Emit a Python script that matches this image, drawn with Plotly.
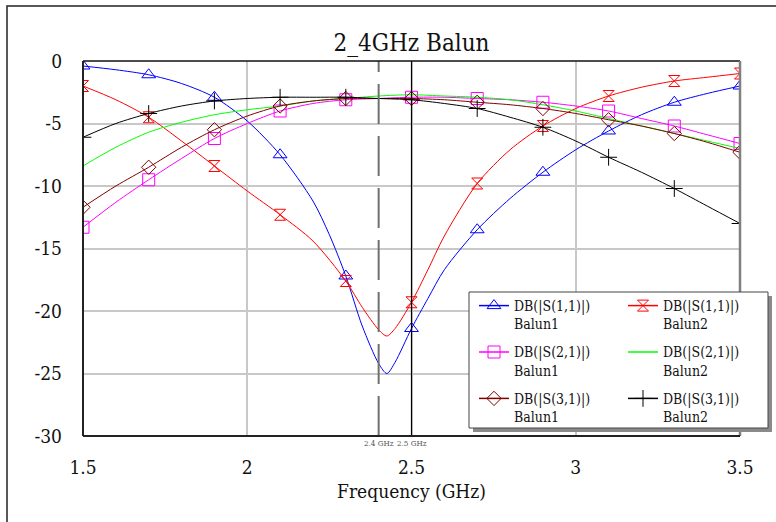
import plotly.graph_objects as go

# ---------------- data ----------------
freq = [1.5, 1.6, 1.7, 1.8, 1.9, 2.0, 2.1, 2.2, 2.3, 2.4, 2.5,
        2.6, 2.7, 2.8, 2.9, 3.0, 3.1, 3.2, 3.3, 3.4, 3.5]
marker_freq = [1.5, 1.7, 1.9, 2.1, 2.3, 2.5, 2.7, 2.9, 3.1, 3.3, 3.5]

freq_s11_b1 = [1.5, 1.6, 1.7, 1.8, 1.9, 2.0, 2.1, 2.2, 2.25, 2.3, 2.35, 2.4, 2.425,
               2.45, 2.5, 2.55, 2.6, 2.7, 2.8, 2.9, 3.0, 3.1, 3.2, 3.3, 3.4, 3.5]
s11_b1 = [-0.4, -0.7, -1.1, -1.8, -2.9, -4.8, -7.5, -11.2, -13.9, -17.2, -21.2, -24.2, -25.0,
          -24.1, -21.4, -19.0, -16.7, -13.5, -11.0, -8.9, -7.1, -5.6, -4.3, -3.3, -2.6, -2.0]

freq_s11_b2 = [1.5, 1.6, 1.7, 1.8, 1.9, 2.0, 2.1, 2.2, 2.3, 2.35, 2.4, 2.425, 2.45,
               2.5, 2.55, 2.6, 2.7, 2.8, 2.9, 3.0, 3.1, 3.2, 3.3, 3.4, 3.5]
s11_b2 = [-2.0, -3.1, -4.5, -6.4, -8.4, -10.4, -12.3, -14.4, -17.6, -19.7, -21.5, -22.0, -21.4,
          -19.3, -16.7, -14.0, -9.8, -7.1, -5.2, -3.8, -2.8, -2.1, -1.6, -1.3, -1.0]

s21_b1 = [-13.3, -11.3, -9.5, -7.8, -6.2, -5.0, -4.0, -3.4, -3.1, -3.0, -2.9,
          -2.9, -3.0, -3.1, -3.3, -3.6, -4.0, -4.6, -5.2, -5.9, -6.6]
s21_b2 = [-8.4, -6.9, -5.7, -4.9, -4.3, -3.9, -3.6, -3.2, -3.0, -2.8, -2.7,
          -2.8, -2.9, -3.1, -3.5, -4.0, -4.6, -5.2, -5.8, -6.4, -7.0]
s31_b1 = [-11.7, -10.0, -8.5, -6.9, -5.5, -4.4, -3.6, -3.2, -3.0, -3.0, -3.0,
          -3.1, -3.3, -3.5, -3.8, -4.2, -4.7, -5.2, -5.8, -6.5, -7.3]
s31_b2 = [-6.1, -5.0, -4.2, -3.6, -3.2, -3.0, -2.9, -2.9, -2.9, -3.0, -3.1,
          -3.4, -3.8, -4.5, -5.3, -6.4, -7.7, -8.9, -10.2, -11.6, -13.0]

x_ticks = [1.5, 2.0, 2.5, 3.0, 3.5]
x_ticktext = ["1.5", "2", "2.5", "3", "3.5"]
y_ticks = [0, -5, -10, -15, -20, -25, -30]
y_ticktext = ["0", "-5", "-10", "-15", "-20", "-25", "-30"]

marker_lines = [2.4, 2.5]
marker_labels = ["2.4 GHz", "2.5 GHz"]

series = [
    # name, freq list, values, color, symbol, size, legend
    ("DB(|S(1,1)|)<br>Balun1", freq_s11_b1, s11_b1, "#0000ff", "triangle-up-open", 12, "legend"),
    ("DB(|S(1,1)|)<br>Balun2", freq_s11_b2, s11_b2, "#ff0000", "hourglass-open", 11, "legend2"),
    ("DB(|S(2,1)|)<br>Balun1", freq, s21_b1, "#ff00ff", "square-open", 12, "legend"),
    ("DB(|S(2,1)|)<br>Balun2", freq, s21_b2, "#00ff00", None, 0, "legend2"),
    ("DB(|S(3,1)|)<br>Balun1", freq, s31_b1, "#800000", "diamond-open", 11, "legend"),
    ("DB(|S(3,1)|)<br>Balun2", freq, s31_b2, "#000000", "cross-thin-open", 12, "legend2"),
]

# ---------------- layout geometry ----------------
W, H = 776, 522
PL, PR, PT, PB = 83, 740, 61, 436
FONT = "DejaVu Serif Condensed, DejaVu Serif"


def px(xp):
    return (xp - PL) / (PR - PL)


def py(yp):
    return (PB - yp) / (PB - PT)


fig = go.Figure()

for i, (name, fx, fy, color, sym, size, leg) in enumerate(series):
    fig.add_trace(go.Scatter(x=fx, y=fy, mode="lines", line=dict(color=color, width=1),
                             line_shape="spline", line_smoothing=0.8,
                             showlegend=False, hoverinfo="skip"))
    if sym:
        lookup = dict(zip(fx, fy))
        mx = [f for f in marker_freq if f in lookup]
        my = [lookup[f] for f in mx]
        fig.add_trace(go.Scatter(x=mx, y=my, mode="markers",
                                 marker=dict(symbol=sym, size=size, color=color,
                                             line=dict(color=color, width=1)),
                                 showlegend=False, hoverinfo="skip"))
    fig.add_trace(go.Scatter(x=[None], y=[None],
                             mode="lines+markers" if sym else "lines",
                             line=dict(color=color, width=1.5),
                             marker=dict(symbol=sym or "circle", size=size or 1, color=color,
                                         line=dict(color=color, width=1)),
                             name=name, legend=leg, legendgroup=name, showlegend=True))

shapes = []
shapes.append(dict(type="rect", xref="paper", yref="paper",
                   x0=px(7), x1=px(800), y0=py(600), y1=py(6),
                   line=dict(color="#222", width=1.5), layer="above"))
for f, dash, col, wd in zip(marker_lines, ["40px,12px", "solid"], ["#707070", "#000000"], [2, 1.2]):
    shapes.append(dict(type="line", xref="x", yref="paper", x0=f, x1=f, y0=0, y1=1,
                       line=dict(color=col, width=wd, dash=dash), layer="above"))
shapes += [
    dict(type="line", xref="paper", yref="paper", x0=0, x1=1, y0=1, y1=1,
         line=dict(color="#111", width=1.5), layer="above"),
    dict(type="line", xref="paper", yref="paper", x0=1, x1=1, y0=0, y1=1,
         line=dict(color="#808080", width=2.5), layer="above"),
    dict(type="line", xref="paper", yref="paper", x0=0, x1=0, y0=0, y1=1,
         line=dict(color="#222", width=2), layer="above"),
    dict(type="line", xref="paper", yref="paper", x0=0, x1=1, y0=0, y1=0,
         line=dict(color="#222", width=2), layer="above"),
]
shapes.append(dict(type="rect", xref="paper", yref="paper",
                   x0=px(473), x1=px(772), y0=py(432), y1=py(296),
                   fillcolor="#8a8a8a", line=dict(width=0), layer="above"))
shapes.append(dict(type="rect", xref="paper", yref="paper",
                   x0=px(469), x1=px(768), y0=py(428), y1=py(292),
                   fillcolor="#ffffff", line=dict(color="#444", width=1), layer="above"))

annotations = []
for f, lab in zip(marker_lines, marker_labels):
    annotations.append(dict(x=f, y=py(443), xref="x", yref="paper", text=lab,
                            showarrow=False, font=dict(family=FONT, size=8, color="#555"),
                            xanchor="center", yanchor="middle"))

leg_common = dict(bgcolor="rgba(0,0,0,0)", borderwidth=0, xanchor="left", yanchor="top",
                  font=dict(family=FONT, size=14, color="#111"), valign="top",
                  tracegroupgap=7, itemwidth=30)

fig.update_layout(
    width=W, height=H,
    margin=dict(l=PL, r=W - PR, t=PT, b=H - PB),
    paper_bgcolor="white", plot_bgcolor="white",
    font=dict(family=FONT, color="#111"),
    title=dict(text="2_4GHz Balun", x=0.5, xref="paper", xanchor="center",
               y=1 - 43 / H, yanchor="middle", font=dict(family=FONT, size=24, color="#111")),
    xaxis=dict(range=[1.5, 3.5], tickvals=x_ticks, ticktext=x_ticktext,
               showgrid=True, gridcolor="#c8c8c8", gridwidth=1.5, zeroline=False,
               showline=False, ticks="", ticklabelstandoff=18,
               tickfont=dict(family=FONT, size=19, color="#111"),
               title=dict(text="Frequency (GHz)", font=dict(family=FONT, size=19, color="#111"),
                          standoff=7)),
    yaxis=dict(range=[-30, 0], tickvals=y_ticks, ticktext=y_ticktext,
               showgrid=True, gridcolor="#c8c8c8", gridwidth=1.5, zeroline=False,
               showline=False, ticks="", ticklabelstandoff=20,
               tickfont=dict(family=FONT, size=19, color="#111")),
    shapes=shapes,
    annotations=annotations,
    legend=dict(x=px(474), y=py(290), **leg_common),
    legend2=dict(x=px(623), y=py(290), **leg_common),
    hovermode=False,
)

fig.write_html("out.html")
